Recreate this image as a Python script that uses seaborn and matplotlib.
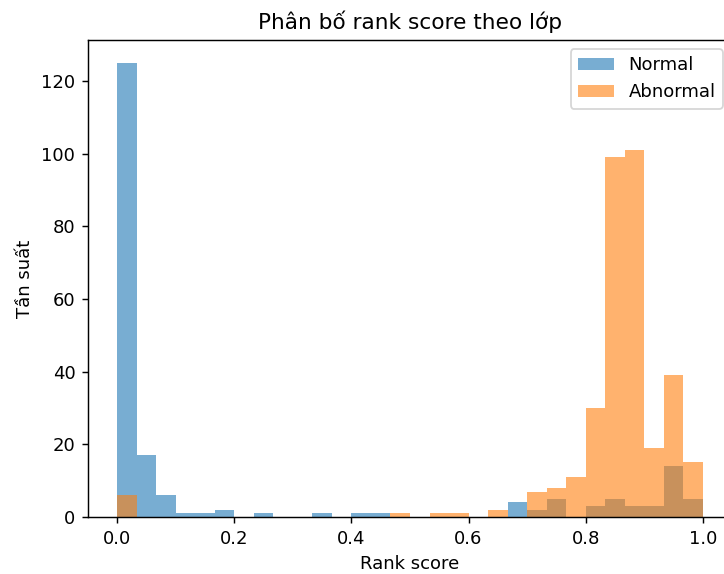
import numpy as np
import pandas as pd
import matplotlib
matplotlib.use("Agg")
import matplotlib.pyplot as plt
import seaborn as sns

# 30 equal-width bins of rank score on [0, 1]
n_bins = 30
bin_range = (0.0, 1.0)

# Counts per bin for each class
normal_counts = [125, 17, 6, 1, 1, 2, 0, 1, 0, 0,
                 1, 0, 1, 1, 0, 0, 0, 0, 0, 0,
                 4, 2, 5, 0, 3, 5, 3, 3, 14, 5]
abnormal_counts = [6, 0, 0, 0, 0, 0, 0, 0, 0, 0,
                   0, 0, 0, 0, 1, 0, 1, 1, 0, 2,
                   0, 7, 8, 11, 30, 99, 101, 19, 39, 15]

series_labels = ["Normal", "Abnormal"]
title = "Phân bố rank score theo lớp"
x_label = "Rank score"
y_label = "Tần suất"

plt.rcParams["font.family"] = ["DejaVu Sans"]

DPI = 130
fig = plt.figure(figsize=(724 / DPI, 574 / DPI), dpi=DPI)
ax = fig.add_axes([88 / 724, 57 / 574, 644 / 724, 477 / 574])

edges = np.linspace(bin_range[0], bin_range[1], n_bins + 1)
centers = (edges[:-1] + edges[1:]) / 2
for counts, label, color in zip([normal_counts, abnormal_counts], series_labels, ["C0", "C1"]):
    df = pd.DataFrame({"score": centers, "count": counts})
    sns.histplot(data=df, x="score", weights="count", bins=n_bins, binrange=bin_range,
                 color=color, alpha=0.6, linewidth=0, label=label, ax=ax)

ax.set_xlim(-0.05, 1.05)
ax.set_ylim(0, 131.25)
ax.set_xticks([0.0, 0.2, 0.4, 0.6, 0.8, 1.0])
ax.set_yticks([0, 20, 40, 60, 80, 100, 120])
ax.set_title(title)
ax.set_xlabel(x_label)
ax.set_ylabel(y_label)
ax.legend(loc="upper right")

fig.savefig("out.png", dpi=DPI)
